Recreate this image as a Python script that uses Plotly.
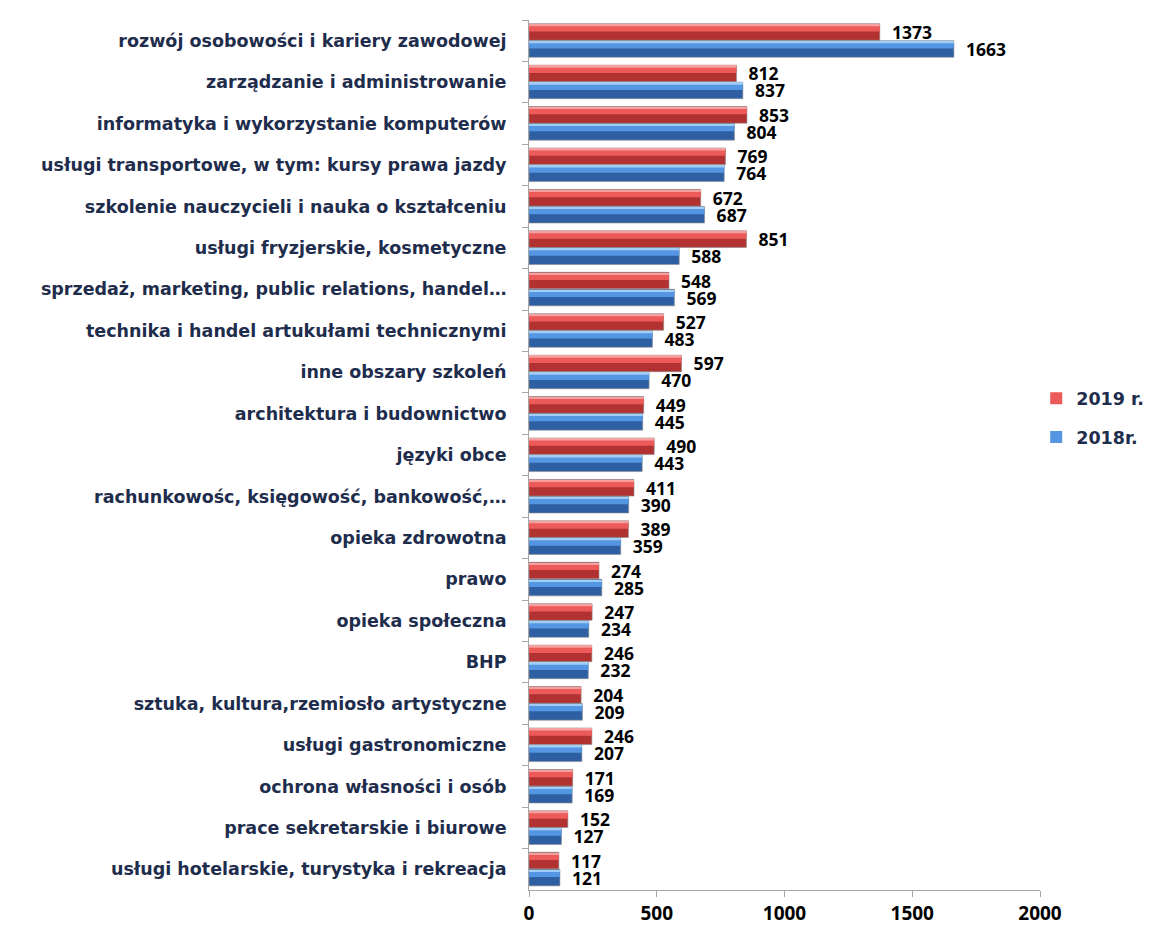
import plotly.graph_objects as go

categories = [
    "rozwój osobowości i kariery zawodowej",
    "zarządzanie i administrowanie",
    "informatyka i wykorzystanie komputerów",
    "usługi transportowe, w tym: kursy prawa jazdy",
    "szkolenie nauczycieli i nauka o kształceniu",
    "usługi fryzjerskie, kosmetyczne",
    "sprzedaż, marketing, public relations, handel…",
    "technika i handel artukułami technicznymi",
    "inne obszary szkoleń",
    "architektura i budownictwo",
    "języki obce",
    "rachunkowośc, księgowość, bankowość,…",
    "opieka zdrowotna",
    "prawo",
    "opieka społeczna",
    "BHP",
    "sztuka, kultura,rzemiosło artystyczne",
    "usługi gastronomiczne",
    "ochrona własności i osób",
    "prace sekretarskie i biurowe",
    "usługi hotelarskie, turystyka i rekreacja",
]
values_2019 = [1373, 812, 853, 769, 672, 851, 548, 527, 597, 449, 490,
               411, 389, 274, 247, 246, 204, 246, 171, 152, 117]
values_2018 = [1663, 837, 804, 764, 687, 588, 569, 483, 470, 445, 443,
               390, 359, 285, 234, 232, 209, 207, 169, 127, 121]
x_ticks = [0, 500, 1000, 1500, 2000]

NAVY = "#1F2D4D"
LABEL_FONT = "DejaVu Sans"
NUM_FONT = "Open Sans"

# (name, values, offset, dark, main, light)
series = [
    ("2019 r.", values_2019, -0.41, "#B23232", "#EC5A5A", "#F7A0A0"),
    ("2018r.", values_2018, 0.0, "#2E5FA3", "#5596E2", "#A2CDF6"),
]
W = 0.4

fig = go.Figure()
for name, vals, off, dark, main, light in series:
    # base bar (darker lower part) carries the value labels
    fig.add_trace(go.Bar(
        y=categories, x=vals, orientation="h", name=name, legendgroup=name,
        offset=off, width=W,
        marker=dict(color=dark, line=dict(color="#8C8C8C", width=0.6)),
        text=[f"  {v}" for v in vals], textposition="outside",
        constraintext="none",
        textfont=dict(family=NUM_FONT, size=17.5, color="black", weight="bold"),
        cliponaxis=False, showlegend=False, hoverinfo="skip",
    ))
    # lighter upper part
    fig.add_trace(go.Bar(
        y=categories, x=vals, orientation="h", name=name, legendgroup=name,
        offset=off + 0.02, width=W * 0.42,
        marker=dict(color=main, line=dict(width=0)),
        showlegend=True,
    ))
    # thin highlight on top edge
    fig.add_trace(go.Bar(
        y=categories, x=vals, orientation="h", name=name, legendgroup=name,
        offset=off + 0.02, width=W * 0.1,
        marker=dict(color=light, line=dict(width=0)),
        showlegend=False, hoverinfo="skip",
    ))

fig.update_layout(
    width=1145, height=921,
    barmode="overlay",
    plot_bgcolor="white", paper_bgcolor="white",
    margin=dict(l=521, r=113, t=12, b=39, autoexpand=False),
    font=dict(family=NUM_FONT, color=NAVY, weight="bold"),
    legend=dict(
        xref="container", yref="container",
        x=0.898, y=0.555, xanchor="left", yanchor="middle",
        font=dict(family=LABEL_FONT, size=17.5, color=NAVY, weight="bold"),
        itemwidth=30, tracegroupgap=13, borderwidth=0,
    ),
)
fig.update_xaxes(
    range=[0, 2000], tickvals=x_ticks, showgrid=False, zeroline=False,
    showline=True, linecolor="#A6A6A6", linewidth=1,
    ticks="outside", tickcolor="#A6A6A6", ticklen=6, automargin=False,
    tickfont=dict(family=NUM_FONT, size=19, color="black", weight="bold"),
)
fig.update_yaxes(
    autorange="reversed", showgrid=False, zeroline=False,
    showline=True, linecolor="#A6A6A6", linewidth=1,
    ticks="outside", tickson="boundaries", tickcolor="#A6A6A6", ticklen=6,
    ticklabelstandoff=18, automargin=False,
    tickfont=dict(family=LABEL_FONT, size=17.5, color=NAVY, weight="bold"),
)

fig.write_html("out.html")
